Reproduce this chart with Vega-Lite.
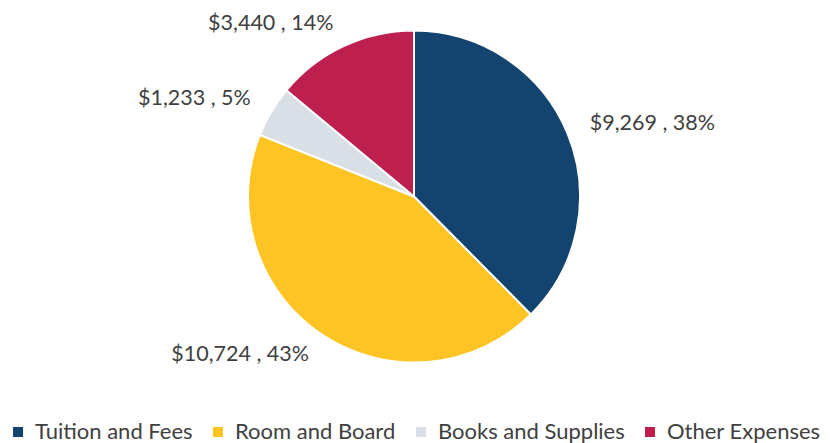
{
  "$schema": "https://vega.github.io/schema/vega-lite/v6.json",
  "width": 832,
  "height": 443,
  "autosize": {"type": "fit", "contains": "padding"},
  "padding": {"top": 2, "bottom": 0, "left": 0, "right": 4},
  "background": "white",
  "config": {
    "view": {"stroke": null},
    "legend": {"layout": {"bottom": {"anchor": "middle"}}}
  },
  "data": {
    "values": [
      {"Category": "Tuition and Fees", "Amount": 9269, "rank": 1, "label": "$9,269 , 38%"},
      {"Category": "Room and Board", "Amount": 10724, "rank": 2, "label": "$10,724 , 43%"},
      {"Category": "Books and Supplies", "Amount": 1233, "rank": 3, "label": "$1,233 , 5%"},
      {"Category": "Other Expenses", "Amount": 3440, "rank": 4, "label": "$3,440 , 14%"}
    ]
  },
  "encoding": {
    "theta": {"field": "Amount", "type": "quantitative", "stack": true},
    "order": {"field": "rank", "type": "quantitative"}
  },
  "layer": [
    {
      "mark": {"type": "arc", "outerRadius": 166, "stroke": "white", "strokeWidth": 2},
      "encoding": {
        "color": {
          "field": "Category",
          "type": "nominal",
          "sort": ["Tuition and Fees", "Room and Board", "Books and Supplies", "Other Expenses"],
          "scale": {
            "domain": ["Tuition and Fees", "Room and Board", "Books and Supplies", "Other Expenses"],
            "range": ["#13446F", "#FEC424", "#D9DFE6", "#BD1F4F"]
          },
          "legend": {
            "orient": "bottom",
            "direction": "horizontal",
            "title": null,
            "offset": 30,
            "symbolType": "square",
            "symbolSize": 100,
            "symbolStrokeWidth": 0,
            "labelFontSize": 22,
            "labelFont": "Lato",
            "labelColor": "#404040",
            "labelLimit": 400,
            "columnPadding": 14,
            "labelOffset": 6
          }
        }
      }
    },
    {
      "mark": {"type": "text", "radius": 190, "align": "left", "baseline": "middle", "fontSize": 21.5, "font": "Lato", "color": "#404040"},
      "encoding": {
        "detail": {"field": "Category"},
        "text": {"condition": {"test": "datum.Category === 'Tuition and Fees'", "field": "label"}, "value": ""}
      }
    },
    {
      "mark": {"type": "text", "radius": 190, "align": "right", "baseline": "middle", "fontSize": 21.5, "font": "Lato", "color": "#404040"},
      "encoding": {
        "detail": {"field": "Category"},
        "text": {"condition": {"test": "datum.Category !== 'Tuition and Fees'", "field": "label"}, "value": ""}
      }
    }
  ]
}
